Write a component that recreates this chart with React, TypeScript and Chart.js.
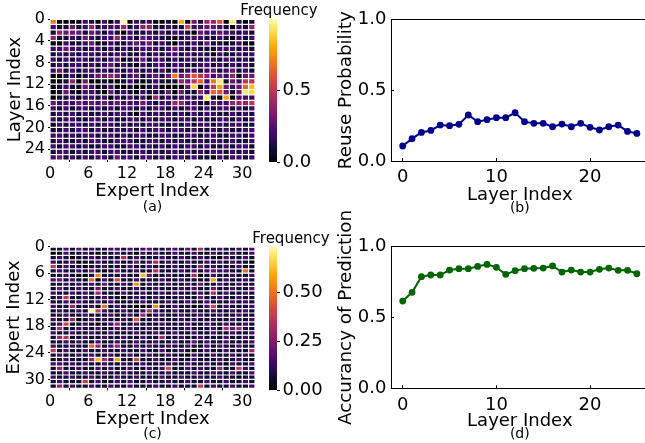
import React, { useEffect, useRef } from "react";
import { Chart, registerables } from "chart.js";

Chart.register(...registerables);
Chart.defaults.font.family = "'DejaVu Sans'";
Chart.defaults.color = "#000";

const layerIndex = [0,1,2,3,4,5,6,7,8,9,10,11,12,13,14,15,16,17,18,19,20,21,22,23,24,25];
const reuseProbability = [.106,.158,.202,.216,.254,.25,.259,.325,.278,.292,.306,.306,.341,.278,.266,.266,.242,.261,.242,.266,.238,.219,.242,.254,.209,.195];
const predictionAccuracy = [.616,.678,.788,.8,.8,.835,.845,.845,.861,.875,.854,.805,.831,.845,.847,.849,.864,.821,.835,.821,.821,.84,.849,.833,.833,.809];

const heatTicksAX = [0,6,12,18,24,30];
const heatTicksAY = [0,4,8,12,16,20,24];
const heatTicksCY = [0,6,12,18,24,30];
const lineTicksX = [0,10,20];
const lineTicksY = [0,.5,1];
const colorbarTicksA = [0,.5];
const colorbarTicksC = [0,.25,.5];

const layerExpertFrequency = [
[.7,0,0,0,0,.2,.1,0,.2,0,.2,1,0,.2,.1,.2,0,0,.1,0,.8,0,.3,.1,.4,.4,.6,0,.95,.1,0,.1],
[.2,.1,.1,.3,.1,.2,.4,.1,.2,.2,.2,.4,.1,.2,.4,.4,.1,.1,.2,.1,.1,.55,.2,.2,.3,.3,.2,.1,0,.2,.1,.4],
[.1,.4,.3,.3,.3,.1,.3,.2,.1,.2,.1,0,.2,.1,.1,.2,.1,.2,.1,.2,.2,.1,0,.3,.2,.2,.3,.2,.2,.1,.2,.1],
[.4,.1,.1,.2,.1,.3,.2,.1,.2,.2,.4,.2,.2,.1,.3,.2,.2,.1,.1,0,.1,.2,.2,.2,.1,.1,.2,.1,0,.2,.1,.2],
[0,0,.2,.1,.1,.2,.3,0,.1,.2,.1,.1,.2,.3,.2,.3,.1,.2,.1,0,.2,.1,.2,.1,.3,.1,.1,0,.1,.2,0,0],
[.2,.2,.3,.2,.2,.1,.2,.2,.1,.2,.1,.2,.1,.2,.2,.2,.2,.1,.2,.3,.2,.1,.2,.1,.1,.1,.2,.2,.2,.1,.2,.1],
[.1,.2,.1,.2,.1,.2,.2,.1,.2,.1,.2,.2,.1,.1,.2,.1,.2,.1,.2,.2,.1,.2,.1,.2,.1,0,.2,.1,.1,.2,.1,.2],
[.2,.1,.2,.1,.2,.2,.1,.2,.1,.2,.3,0,.1,.2,.3,.1,.2,.2,.1,.2,.1,.2,.2,.1,.2,.2,.1,.2,.2,.1,.2,.1],
[.1,.2,.1,.2,.2,.1,.2,.1,.2,.3,.1,.2,.1,0,.2,.1,.2,.2,.1,.2,.2,.1,.1,.2,.2,.1,.2,.1,.2,.1,.2,.1],
[.2,.3,.1,.2,.1,.2,.2,.1,.2,.1,.2,.1,.2,.2,.1,.2,.1,.2,.1,.2,.1,.2,.2,.1,.2,.3,.1,.2,.3,.1,.2,.1],
[0,0,.1,.2,0,.1,.2,.3,.3,.4,.3,.1,.2,.3,.1,.2,.3,.1,.3,.7,.3,.4,.6,.5,.4,.2,.3,.2,.4,0,.3,.3],
[0,0,.1,.4,0,.3,0,0,.1,0,0,.1,.2,.1,0,.1,.2,.1,.1,.1,.4,.3,.5,.65,.2,.7,.95,.1,.3,.2,.5,.5],
[0,.1,.2,.1,.1,.3,.2,0,.1,.2,0,0,.1,0,0,.1,.2,0,0,0,0,.3,.9,0,.2,.5,.8,.3,.2,.3,.65,.85],
[0,.1,.3,.1,0,.2,.2,.1,0,.3,.1,.2,.1,0,.2,.1,.1,.1,.3,0,.3,.1,.1,.4,.2,.65,.6,.3,.1,.3,.95,.9],
[0,.1,.1,.2,0,.2,.2,.1,.2,0,.2,.1,.2,.1,.2,0,.4,.1,.2,.1,.2,.2,.1,.2,.95,.1,0,.8,0,.2,.2,.2],
[.3,.2,.2,.2,.3,.2,.3,.2,.3,.2,.3,.2,.2,.2,.3,.2,.1,.2,.2,.4,.4,.2,.2,.1,0,.3,.2,.2,.4,.4,.4,.5],
[.2,.1,.2,.1,.2,.2,.1,.2,.1,.2,.1,.2,.2,.1,.2,.1,.2,.2,.1,.2,.1,.2,.2,.1,.2,.1,.2,.2,.1,.2,.1,.2],
[.1,.2,.1,.2,.1,.2,.1,.1,.2,.1,.2,.2,.1,0,.2,.1,.2,.1,.2,.1,.2,.1,.2,.1,.2,.2,.1,.1,.2,.1,.2,.1],
[.2,.1,.2,.2,.1,.1,.2,.2,.1,.2,.1,.1,.2,.2,.1,.2,.1,.2,.2,.1,.2,.2,.1,.2,.1,.1,.2,.2,.1,.2,.1,.2],
[0,.2,.1,.2,.2,.1,.2,.1,.2,.2,.1,.2,.1,.2,.1,.2,.2,.1,.1,.2,.1,.2,.1,.2,.2,.1,.2,.1,.2,.2,.1,.1],
[.1,.1,.2,.1,.2,.2,.1,.2,.1,.1,.2,.1,.2,.1,.2,.1,.2,.2,.1,.2,.2,.1,.2,.1,.1,.2,.1,.2,.1,.1,.2,.2],
[.2,.2,.1,.2,.1,.2,.2,.1,.2,.2,.1,.2,.1,.2,.2,.1,.1,.2,.2,.1,.1,.2,.2,.1,.2,.2,.1,.1,.2,.2,.1,.2],
[.1,.2,.1,.1,.2,.1,.2,.2,.1,.1,.2,.2,.2,.1,.1,.2,.2,.1,.2,.1,.2,.1,.1,.2,.1,.2,.2,.1,.2,.1,.1,.2],
[.2,.1,.2,.2,.1,.2,.1,.1,.2,.2,.1,.1,.2,.2,.1,.2,.1,.2,.1,.2,.1,.2,.2,.1,.2,.1,.1,.2,.1,.2,.2,.1],
[.1,.2,.2,.1,.2,.1,.2,.2,.1,.2,.2,.1,.1,.2,.2,.1,.2,.1,.2,.2,.1,.2,.1,.2,.1,.2,.2,.1,.2,.1,.2,.1],
[.2,.3,.1,.2,.1,.2,.1,.2,.2,.1,.3,.2,.2,.1,.2,.2,.1,.2,.1,.2,.2,.1,.2,.1,.1,0,.2,.1,.2,.2,.1,.2],
];

const expertExpertFrequency = [
[.07,.07,.15,.07,.2,.07,.15,.07,.07,.15,.15,.07,.15,.07,.15,.2,.07,.07,.15,.15,.07,.2,.07,.33,.07,.07,.15,.07,.07,.15,.07,.15],
[0,0,.15,.07,.07,.15,.07,0,.07,.07,.15,.07,.07,0,.15,.07,.15,.07,.07,.15,.07,.07,.15,.07,0,.15,.07,.07,.15,.07,.07,.15],
[.07,.15,.07,0,.07,.07,.15,.07,.15,.07,.07,.33,.07,.15,.07,.07,.07,.15,.07,.07,.15,.07,.07,.15,.07,.07,0,.15,.07,.07,.15,.07],
[.15,.07,.07,.15,0,.07,.07,.15,.07,.07,.15,.07,.07,.22,.07,.15,.33,.07,.15,.07,.07,.15,.07,.07,.15,.07,.15,.07,.15,.07,.07,0],
[.37,.07,.15,.07,.07,0,.07,.07,.15,.07,.07,.07,.15,.07,.07,.15,.07,.07,.07,.15,.07,.07,.07,.28,.07,.15,.07,.07,.07,.15,.07,.07],
[.07,.15,.07,.07,.15,.07,.22,.07,0,.07,.22,.07,.07,.15,.07,.07,.33,.07,.07,.07,.15,.07,.15,.07,.15,.2,.15,.15,.07,.07,.5,.07],
[.07,.07,.15,.07,0,0,.07,.52,.07,.07,.07,.15,.07,.07,.62,.22,.07,.07,.15,.07,.07,.07,.33,0,.07,.15,.07,.07,.15,.07,.07,.15],
[.15,.22,.07,.15,.07,.07,.47,0,.15,.07,.42,.07,.07,.15,.07,.07,.07,.15,.07,.07,.15,.07,.07,.07,.07,.58,.07,.15,.07,.07,.15,.07],
[.07,.07,.15,.07,.15,.07,.15,.07,.22,.07,.07,.15,.07,.55,.07,.15,.07,.07,.15,.07,.07,.15,.07,.22,.07,.07,.15,.07,.07,.15,.07,.07],
[.07,.22,.07,.07,.15,.07,.07,.22,.07,.07,.15,.07,.07,.15,.07,.07,.15,.07,.07,.07,.15,.07,.15,.07,.07,.22,.07,.07,.15,.07,.07,.15],
[.15,.07,.07,.15,.07,.15,.07,.3,.07,.07,0,.15,.07,.07,.15,.07,.07,.15,.07,.15,.07,.07,.07,.15,.07,.33,.07,.15,.07,.07,.15,.07],
[.07,.15,.36,.07,.07,.15,.07,.07,.15,.07,.07,0,.07,.15,.07,.07,.15,.07,.07,.07,.15,.07,.07,.22,.07,.07,.15,.07,.07,.15,.07,.07],
[.07,.07,.15,.07,.15,.07,.07,.15,.07,.15,.07,.07,.07,.07,.15,.07,.07,.07,.15,.07,.07,.15,.07,.07,.15,.07,.07,.07,.15,.07,.15,.07],
[.15,.07,.07,.3,.07,.07,.15,0,.5,.07,.15,.07,.07,0,0,.07,.55,.07,.07,.15,.07,.07,0,.07,.15,.4,.07,.15,.07,.07,.07,.15],
[.07,.15,.07,.07,.15,.07,.73,.38,.15,.07,.07,.15,.07,.07,.15,.35,.15,.07,.07,.15,.07,.07,.15,.07,.07,.15,.07,.07,.15,.07,.15,.07],
[.07,.07,.15,.07,.07,.15,.07,.07,.07,.15,.07,.07,.15,.07,.3,.07,.07,.15,.07,.07,.15,.07,.07,.15,.07,.07,.15,.07,.07,.15,.07,.07],
[.15,.07,.07,.3,0,.07,.2,.07,.15,.07,.07,.15,.07,.45,.07,.07,.15,.07,.07,.07,.15,.07,.15,.07,.07,.15,.07,.07,.15,.07,.07,.15],
[.07,.15,.4,.07,.07,.15,.07,0,.07,.15,.3,.07,.07,.15,.07,.07,.07,.15,.07,.07,.07,.15,.07,.07,.15,.07,.07,.15,.07,.07,.15,.07],
[.07,.33,.07,.07,.15,.07,.07,.15,.07,.07,.15,.07,.15,.07,.07,.15,.07,.07,.15,.07,.07,.15,.07,.07,.07,.15,.07,.33,.2,.3,.07,.07],
[.15,.07,.07,.15,.07,.07,.15,.07,.07,.15,.07,.07,.07,.15,.07,.07,.15,.07,.07,.15,.07,.07,.15,.07,.07,.15,.07,.07,.15,.07,.07,.15],
[.07,.3,.36,.07,.07,.15,.07,.07,.15,.07,.07,.15,.07,.07,.15,.07,.07,.3,.07,.07,.15,.07,.07,.15,.07,.07,.07,.15,.07,.07,.15,.07],
[.07,.07,.15,.07,.15,.07,.07,.15,.07,.07,.15,.07,.07,.15,.07,.07,.15,.07,.07,.15,.07,.07,.2,.07,.15,.07,.07,.15,.07,.07,.07,.15],
[.15,.07,.07,.15,.07,.07,.47,.3,.07,.15,.3,.07,.07,.15,.07,.15,.07,.07,.15,.07,.07,.15,.07,.07,.15,.07,.15,.07,.07,.15,.07,.07],
[.38,.07,.15,.07,.07,.15,.07,.07,.15,.07,.07,.15,.07,.07,.15,.07,.07,.15,.07,.07,.15,.07,0,.07,.15,.07,.07,.15,.07,.07,.07,.3],
[.07,.15,.07,.07,.15,.07,.15,.07,.07,.15,.07,.07,.15,.07,.07,.15,.07,.07,.15,.07,.07,0,.15,.07,.07,.15,.07,.07,.15,.07,.15,.07],
[.07,.07,.15,.07,.07,.07,.3,.62,.33,.15,.58,.07,.07,.42,.07,.07,.15,.07,.07,.15,.07,.07,.15,.07,.07,.07,.15,.07,.07,.15,.07,.07],
[.15,.15,.07,.15,.07,.15,.07,.07,.15,.07,.07,.15,.07,.07,.15,.07,.07,.07,.15,.07,.07,.15,.07,.07,.15,.07,.07,0,.15,.07,.07,.15],
[.07,.3,.07,.07,.15,.07,.07,.15,.07,.15,.07,.07,.15,.07,.07,.15,.07,.15,.42,.07,.07,.15,.07,.15,.07,.07,.3,.07,.07,.38,.15,.07],
[.07,.07,.15,.07,.07,.15,.07,.07,.15,.07,.07,.15,.07,.07,.07,.15,.07,.07,.15,.07,.07,.07,.15,.07,.07,.15,.07,.07,.15,.07,.07,.15],
[.15,.07,.07,.15,.07,.07,.15,.07,.07,.07,.15,.07,.07,.15,.07,.07,.07,.15,.07,.07,.15,.07,.07,.15,.07,.07,.15,.07,.07,0,.07,.07],
[.07,.15,.07,.07,.07,.38,.07,.15,.07,.07,.15,.07,.15,.07,.07,.15,.07,.07,.15,.07,.07,.15,.07,.07,.15,.07,.07,.15,.07,.07,.15,.07],
[.07,.3,.07,.15,.07,.07,.15,.07,.07,.15,.07,.07,.15,.07,.07,.07,.15,.07,.07,.15,.07,.07,.07,.38,.07,.15,.07,.07,.15,.07,.07,.15],
];

const infernoStops = ["#000004","#160b39","#420a68","#6a176e","#932667","#bc3754","#dd513a","#f37819","#fca50a","#f6d746","#fcffa4"];

function hexToRgb(h: string) {
  return [1, 3, 5].map((i) => parseInt(h.slice(i, i + 2), 16));
}
function inferno(t: number) {
  const c = Math.max(0, Math.min(1, t)) * (infernoStops.length - 1);
  const i = Math.min(Math.floor(c), infernoStops.length - 2);
  const a = hexToRgb(infernoStops[i]);
  const b = hexToRgb(infernoStops[i + 1]);
  const f = c - i;
  return `rgb(${a.map((v, k) => Math.round(v + (b[k] - v) * f)).join(",")})`;
}
const fixedTicks = (vals: number[]) => (s: any) => {
  s.ticks = vals.map((value) => ({ value }));
};

function ChartBox({ left, top, width, height, config }: any) {
  const ref = useRef<HTMLCanvasElement>(null);
  useEffect(() => {
    const chart = new Chart(ref.current!, config());
    return () => chart.destroy();
  }, []);
  return (
    <canvas
      ref={ref}
      width={width}
      height={height}
      style={{ position: "absolute", left, top, width, height }}
    />
  );
}

function heatConfig(opts: any) {
  const { matrix, vmax, xTicks, yTicks, yTitle, caption, pad, yW, xH, yTitlePad, xTitlePad } = opts;
  const rows = matrix.length;
  return () => ({
    type: "bar",
    data: {
      datasets: matrix.map((row: number[], r: number) => ({
        data: row.map((v, c) => ({ x: c + 0.5, y: [r, r + 1] })),
        backgroundColor: row.map((v) => inferno(v / vmax)),
        borderColor: "#fff",
        borderWidth: 0.6,
        borderSkipped: false,
        inflateAmount: 0,
        barPercentage: 1,
        categoryPercentage: 1,
        grouped: false,
      })),
    },
    options: {
      responsive: false,
      animation: false,
      events: [],
      layout: { padding: pad },
      plugins: {
        legend: { display: false },
        tooltip: { enabled: false },
        title: {
          display: true,
          text: caption,
          position: "bottom",
          fullSize: false,
          font: { size: 14, weight: "normal" },
          padding: 0,
          color: "#000",
        },
      },
      scales: {
        x: {
          type: "linear",
          offset: false,
          min: 0,
          max: 32,
          afterBuildTicks: fixedTicks(xTicks),
          afterFit: (s: any) => { s.height = xH; },
          grid: { drawOnChartArea: false, tickLength: 2, color: "#000", tickColor: "#000" },
          border: { display: false },
          ticks: { font: { size: 16 }, padding: 2, maxRotation: 0, autoSkip: false, color: "#000" },
          title: { display: true, text: "Expert Index", font: { size: 18 }, padding: xTitlePad, color: "#000" },
        },
        y: {
          type: "linear",
          reverse: true,
          min: 0,
          max: rows,
          afterBuildTicks: fixedTicks(yTicks),
          afterFit: (s: any) => { s.width = yW; },
          grid: { drawOnChartArea: false, tickLength: 2, color: "#000", tickColor: "#000" },
          border: { display: false },
          ticks: { font: { size: 16 }, padding: 3, autoSkip: false, color: "#000" },
          title: { display: true, text: yTitle, font: { size: 18 }, padding: yTitlePad, color: "#000" },
        },
      },
    },
  });
}

function colorbarConfig(opts: any) {
  const { vmax, ticks, pad, leftW, axisW, decimals } = opts;
  return () => ({
    type: "bar",
    data: {
      labels: ["Frequency"],
      datasets: [
        {
          data: [[0, vmax]],
          backgroundColor: (ctx: any) => {
            const area = ctx.chart.chartArea;
            if (!area) return "#000";
            const g = ctx.chart.ctx.createLinearGradient(0, area.bottom, 0, area.top);
            infernoStops.forEach((c, i) => g.addColorStop(i / (infernoStops.length - 1), c));
            return g;
          },
          borderWidth: 0,
          inflateAmount: 0,
          barPercentage: 1,
          categoryPercentage: 1,
        },
      ],
    },
    options: {
      responsive: false,
      animation: false,
      events: [],
      layout: { padding: pad },
      plugins: {
        legend: { display: false },
        tooltip: { enabled: false },
        title: {
          display: true,
          text: "Frequency",
          position: "top",
          font: { size: 15, weight: "normal" },
          padding: { top: 2, bottom: -1 },
          color: "#000",
        },
      },
      scales: {
        x: { display: false },
        yLeft: {
          position: "left",
          min: 0,
          max: vmax,
          afterFit: (s: any) => { s.width = leftW; },
          grid: { display: false },
          border: { display: false },
          ticks: { display: false },
        },
        y: {
          position: "right",
          min: 0,
          max: vmax,
          afterBuildTicks: fixedTicks(ticks),
          afterFit: (s: any) => { s.width = axisW; },
          grid: { drawOnChartArea: false, tickLength: 3, tickColor: "#000", color: "#000" },
          border: { display: false },
          ticks: {
            font: { size: 18 },
            padding: 2.5,
            autoSkip: false,
            color: "#000",
            callback: (v: number) => v.toFixed(decimals),
          },
        },
      },
    },
  });
}

function lineConfig(opts: any) {
  const { values, color, yTitle, caption, pad, xTitlePad, yTitlePad, xH } = opts;
  return () => ({
    type: "line",
    data: {
      labels: layerIndex,
      datasets: [
        {
          data: values.map((v: number, i: number) => ({ x: layerIndex[i], y: v })),
          borderColor: color,
          backgroundColor: color,
          borderWidth: 2,
          pointRadius: 3.4,
          pointBorderWidth: 0,
          tension: 0,
          fill: false,
        },
      ],
    },
    options: {
      responsive: false,
      animation: false,
      events: [],
      layout: { padding: pad },
      plugins: {
        legend: { display: false },
        tooltip: { enabled: false },
        title: {
          display: true,
          text: caption,
          position: "bottom",
          fullSize: false,
          font: { size: 14, weight: "normal" },
          padding: 0,
          color: "#000",
        },
      },
      scales: {
        x: {
          type: "linear",
          min: -1.25,
          max: 26.25,
          afterBuildTicks: fixedTicks(lineTicksX),
          afterFit: (s: any) => { s.height = xH; },
          grid: { drawOnChartArea: false, tickLength: -3, tickColor: "#000", tickWidth: 1 },
          border: { color: "#000", width: 1 },
          ticks: { font: { size: 18 }, padding: 9, maxRotation: 0, autoSkip: false, color: "#000" },
          title: { display: true, text: "Layer Index", font: { size: 18 }, padding: xTitlePad, color: "#000" },
        },
        xTop: {
          type: "linear",
          position: "top",
          min: -1.25,
          max: 26.25,
          afterFit: (s: any) => { s.height = 0; },
          grid: { drawOnChartArea: false, drawTicks: false },
          border: { color: "#000", width: 1 },
          ticks: { display: false },
        },
        y: {
          type: "linear",
          min: 0,
          max: 1,
          afterBuildTicks: fixedTicks(lineTicksY),
          afterFit: (s: any) => { s.width = 61; },
          grid: { drawOnChartArea: false, tickLength: -3, tickColor: "#000", tickWidth: 1 },
          border: { color: "#000", width: 1 },
          ticks: { font: { size: 18 }, padding: 7.5, autoSkip: false, color: "#000", callback: (v: number) => v.toFixed(1) },
          title: { display: true, text: yTitle, font: { size: 18.3 }, padding: yTitlePad, color: "#000" },
        },
      },
    },
  });
}

export default function App() {
  return (
    <div style={{ position: "absolute", left: 0, top: 0, width: 645, height: 443, overflow: "hidden", background: "#fff" }}>
      <ChartBox left={0} top={0} width={262} height={216}
        config={heatConfig({ matrix: layerExpertFrequency, vmax: 1, xTicks: heatTicksAX, yTicks: heatTicksAY, yTitle: "Layer Index", caption: "(a)", pad: { top: 19, right: 7, left: 0, bottom: 0 }, yW: 50, xH: 39.2, yTitlePad: { top: 5, bottom: 0 }, xTitlePad: { top: 0, bottom: -3 } })} />
      <ChartBox left={220} top={0} width={118} height={177}
        config={colorbarConfig({ vmax: 1, ticks: colorbarTicksA, pad: { left: 0, top: 0, bottom: 15, right: 0 }, leftW: 49, axisW: 61, decimals: 1 })} />
      <ChartBox left={330} top={0} width={325} height={217}
        config={lineConfig({ values: reuseProbability, color: "#00008b", yTitle: "Reuse Probability", caption: "(b)", pad: { top: 19.5, right: 6.4, left: 0, bottom: 0 }, xH: 39.2, yTitlePad: { top: 5, bottom: 0 }, xTitlePad: { top: 0, bottom: -6 } })} />
      <ChartBox left={0} top={227} width={262} height={216}
        config={heatConfig({ matrix: expertExpertFrequency, vmax: .733, xTicks: heatTicksAX, yTicks: heatTicksCY, yTitle: "Expert Index", caption: "(c)", pad: { top: 19.6, right: 7, left: 0, bottom: 0 }, yW: 50, xH: 37.9, yTitlePad: { top: 4, bottom: 0 }, xTitlePad: { top: 0, bottom: -4 } })} />
      <ChartBox left={232} top={227} width={118} height={179}
        config={colorbarConfig({ vmax: .733, ticks: colorbarTicksC, pad: { left: 0, top: 0.7, bottom: 15.7, right: 0 }, leftW: 37, axisW: 73, decimals: 2 })} />
      <ChartBox left={330} top={200} width={325} height={243}
        config={lineConfig({ values: predictionAccuracy, color: "#006400", yTitle: "Accurancy of Prediction", caption: "(d)", pad: { top: 46.7, right: 6.4, left: 0, bottom: 0 }, xH: 37.9, yTitlePad: { top: 5, bottom: 0 }, xTitlePad: { top: 0, bottom: -6 } })} />
    </div>
  );
}
